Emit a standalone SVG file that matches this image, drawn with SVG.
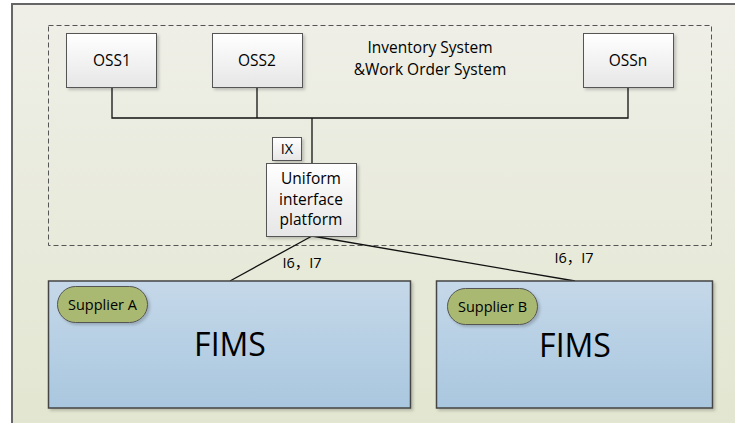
<svg xmlns="http://www.w3.org/2000/svg" width="735" height="423" viewBox="0 0 735 423">
<defs>
<linearGradient id="bg" x1="0" y1="0" x2="0" y2="1"><stop offset="0" stop-color="#efefe8"/><stop offset="1" stop-color="#e2e6d0"/></linearGradient>
<linearGradient id="wb" x1="0" y1="0" x2="0" y2="1"><stop offset="0" stop-color="#ffffff"/><stop offset="1" stop-color="#e6e6e6"/></linearGradient>
<linearGradient id="blue" x1="0" y1="0" x2="0" y2="1"><stop offset="0" stop-color="#c5d8e9"/><stop offset="1" stop-color="#a9c7df"/></linearGradient>
<filter id="sh" x="-10%" y="-10%" width="130%" height="130%"><feDropShadow dx="2" dy="2" stdDeviation="1.5" flood-color="#000" flood-opacity="0.2"/></filter>
</defs>
<style>
.t{font-family:"Open Sans","Noto Sans","Liberation Sans","Noto Sans CJK SC",sans-serif;fill:#000;text-anchor:middle}
.box{fill:url(#wb);stroke:#555;stroke-width:1;filter:url(#sh)}
.fims{fill:url(#blue);stroke:#444;stroke-width:1.5;filter:url(#sh)}
.pill{fill:#a9b972;stroke:#555;stroke-width:1;filter:url(#sh)}
.ln{stroke:#111;stroke-width:1.3;fill:none}
</style>
<rect width="735" height="423" fill="#ffffff"/>
<rect x="12" y="4" width="730" height="430" fill="url(#bg)" stroke="#666" stroke-width="2"/>
<rect x="48.5" y="25.5" width="663" height="220" fill="none" stroke="#555" stroke-width="1" stroke-dasharray="5,3"/>
<text class="t" x="430" y="53" font-size="15.5">Inventory System</text>
<text class="t" x="430" y="75" font-size="15.5">&amp;Work Order System</text>
<g id="connectors">
<polyline class="ln" points="112,88 112,118 628,118 628,88"/>
<line class="ln" x1="257" y1="88" x2="257" y2="118"/>
<line class="ln" x1="312" y1="118" x2="312" y2="163"/>
<line class="ln" x1="312" y1="236" x2="230" y2="281"/>
<line class="ln" x1="312" y1="236" x2="575" y2="281"/>
<text class="t" x="302" y="268" font-size="14.5">I6，I7</text>
<text class="t" x="574" y="263" font-size="14.5">I6，I7</text>
</g>
<g id="oss1"><rect class="box" x="66.5" y="33.5" width="90" height="54"/><text class="t" x="112" y="66" font-size="15.5">OSS1</text></g>
<g id="oss2"><rect class="box" x="212.5" y="33.5" width="90" height="54"/><text class="t" x="257" y="66" font-size="15.5">OSS2</text></g>
<g id="ossn"><rect class="box" x="583.5" y="33.5" width="90" height="54"/><text class="t" x="628" y="66" font-size="15.5">OSSn</text></g>
<g id="ix"><rect class="box" x="272.5" y="137.5" width="29" height="23"/><text class="t" x="287" y="154" font-size="14.5">IX</text></g>
<g id="uniform"><rect class="box" x="266.5" y="163.5" width="90" height="73"/>
<text class="t" x="311" y="184" font-size="15.5">Uniform</text>
<text class="t" x="311" y="205" font-size="15.5">interface</text>
<text class="t" x="311" y="225" font-size="15.5">platform</text></g>
<g id="fimsA"><rect class="fims" x="48.5" y="281" width="362" height="127"/>
<rect class="pill" x="57.5" y="286.5" width="90" height="36" rx="18"/>
<text class="t" x="102.5" y="310" font-size="14.5">Supplier A</text>
<text class="t" x="230" y="356" font-size="32">FIMS</text></g>
<g id="fimsB"><rect class="fims" x="436.5" y="281" width="276" height="127"/>
<rect class="pill" x="447.5" y="288.5" width="90" height="36" rx="18"/>
<text class="t" x="492.5" y="312" font-size="14.5">Supplier B</text>
<text class="t" x="575" y="357" font-size="32">FIMS</text></g>
</svg>
